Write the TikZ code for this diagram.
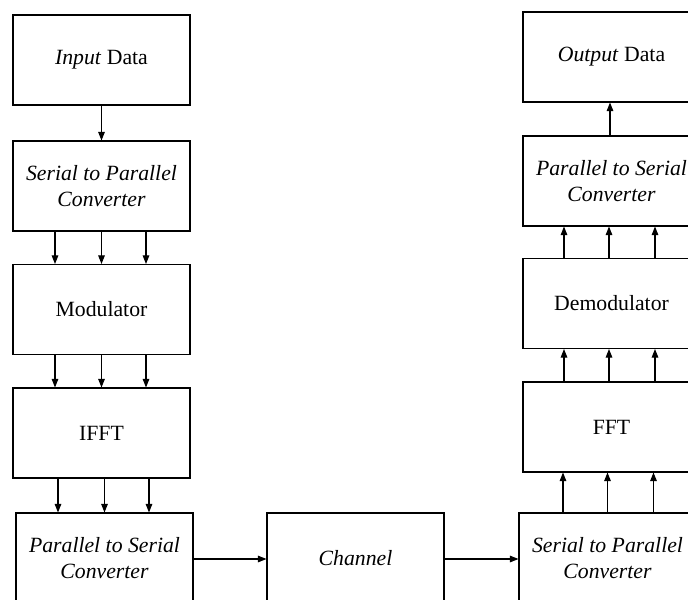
\documentclass[tikz,border=0pt]{standalone}
\usepackage{fontspec}
\setmainfont{Liberation Serif}
\usetikzlibrary{arrows.meta,calc}
\begin{document}
\begin{tikzpicture}[x=0.75pt,y=-0.75pt,
  blk/.style={draw, line width=0.8pt, minimum width=177*0.75pt, minimum height=90*0.75pt,
    inner sep=0pt, align=center, font=\fontsize{16.3}{19}\selectfont, fill=white},
  arr/.style={line width=0.8pt, -{Triangle[length=6.5pt,width=5pt]}}]
\useasboundingbox (0,0) rectangle (688,599);
\clip (0,0) rectangle (688,599);
% left column
\node[blk] (in)  at (101.5,60)  {\textit{Input} Data};
\node[blk] (sp)  at (101.5,186) {\textit{Serial to Parallel}\\\textit{Converter}};
\node[blk] (mod) at (101.5,309.5) {Modulator};
\node[blk] (ifft) at (101.5,433) {IFFT};
\node[blk] (ps)  at (104.5,558) {\textit{Parallel to Serial}\\\textit{Converter}};
% middle
\node[blk] (ch)  at (355.5,558) {\textit{Channel}};
% right column
\node[blk] (sp2) at (607.5,558) {\textit{Serial to Parallel}\\\textit{Converter}};
\node[blk] (fft) at (611.5,427) {FFT};
\node[blk] (dem) at (611.5,303.5) {Demodulator};
\node[blk] (ps2) at (611.5,181) {\textit{Parallel to Serial}\\\textit{Converter}};
\node[blk] (out) at (611.5,57) {\textit{Output} Data};
% connectors
\draw[arr] (in.south) -- (sp.north);
\foreach \d in {-46.5,0,44.5}{
  \draw[arr] ($(sp.south)+(\d,0)$) -- ($(mod.north)+(\d,0)$);
  \draw[arr] ($(mod.south)+(\d,0)$) -- ($(ifft.north)+(\d,0)$);
  \draw[arr] ($(ifft.south)+(\d+3,0)$) -- ($(ps.north)+(\d,0)$);
}
\draw[arr] ($(ps.east)+(0,1)$) -- ($(ch.west)+(0,1)$);
\draw[arr] ($(ch.east)+(0,1)$) -- ($(sp2.west)+(0,1)$);
\foreach \d in {-44.5,0,46}{
  \draw[arr] ($(sp2.north)+(\d,0)$) -- ($(fft.south)+(\d-4,0)$);
}
\foreach \d in {-47.5,-2.5,43.5}{
  \draw[arr] ($(fft.north)+(\d,0)$) -- ($(dem.south)+(\d,0)$);
  \draw[arr] ($(dem.north)+(\d,0)$) -- ($(ps2.south)+(\d,0)$);
}
\draw[arr] ($(ps2.north)+(-1.5,0)$) -- ($(out.south)+(-1.5,0)$);
\end{tikzpicture}
\end{document}
